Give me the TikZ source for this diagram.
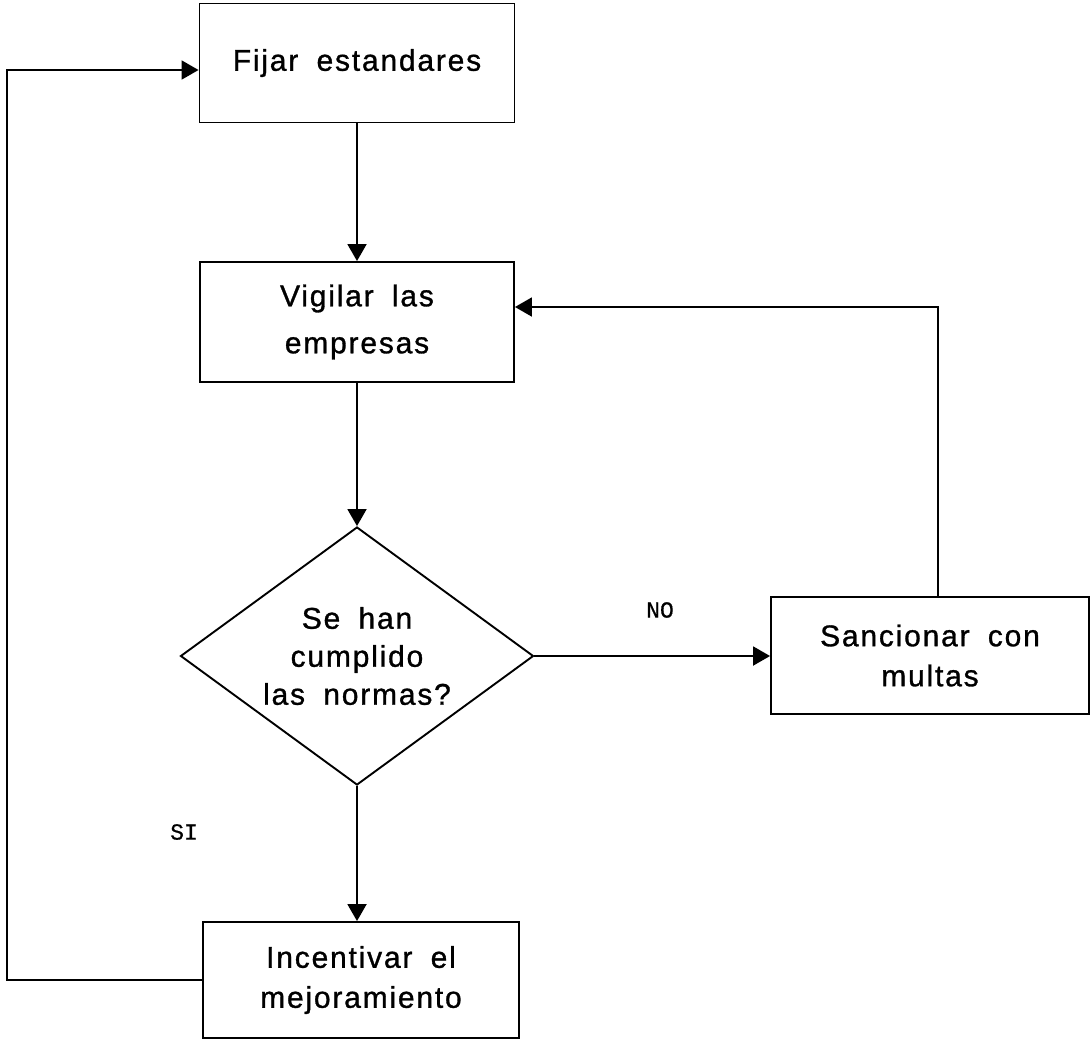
\documentclass[tikz,border=0pt]{standalone}
\usepackage{fontspec}
\usetikzlibrary{arrows.meta,shapes.geometric}
\newfontfamily\boxfont{Liberation Sans}[LetterSpace=6,FakeBold=1,WordSpace=1.8]
\newfontfamily\labfont{Liberation Mono}[FakeBold=0.6]
\begin{document}
\begin{tikzpicture}[x=1pt,y=-1pt,
  line width=1.9pt,
  stepbox/.style={draw,rectangle,inner sep=0pt,align=center,
     font=\boxfont\fontsize{30}{40}\selectfont},
  decbox/.style={draw,diamond,inner sep=0pt,aspect=1.37,align=center,
     minimum width=353pt,minimum height=258pt,
     font=\boxfont\fontsize{30}{38}\selectfont},
  lab/.style={font=\labfont\fontsize{23}{26}\selectfont,inner sep=0pt},
  arr/.style={-{Triangle[length=17pt,width=19pt]}}]
\useasboundingbox (0,0) rectangle (1091,1042);
\node[stepbox,minimum width=315pt,minimum height=119pt] (fijar) at (357,63) {Fijar estandares};
\node[stepbox,minimum width=314pt,minimum height=120pt,font=\boxfont\fontsize{30}{47}\selectfont] (vigilar) at (357,322) {Vigilar las\\empresas};
\node[decbox] (dec) at (357,656) {Se han\\cumplido\\las normas?};
\node[stepbox,minimum width=318pt,minimum height=117pt] (sanc) at (930,655.5) {Sancionar con\\multas};
\node[stepbox,minimum width=316pt,minimum height=116pt] (incent) at (361,980) {Incentivar el\\mejoramiento};
\node[lab] (no) at (660,610) {NO};
\node[lab] (si) at (184,832) {SI};
\coordinate (lp) at (7,70);
\draw[arr] (fijar.south) -- (vigilar.north);
\draw[arr] (vigilar.south) -- (dec.north);
\draw[arr] (dec.east) -- (dec.east -| sanc.west);
\draw[arr] ([xshift=8pt]sanc.north) |- ([yshift=15pt]vigilar.east);
\draw[arr] (dec.south) -- (dec.south |- incent.north);
\draw[arr] (incent.west) -| (lp) -- (lp -| fijar.west);
\end{tikzpicture}
\end{document}
